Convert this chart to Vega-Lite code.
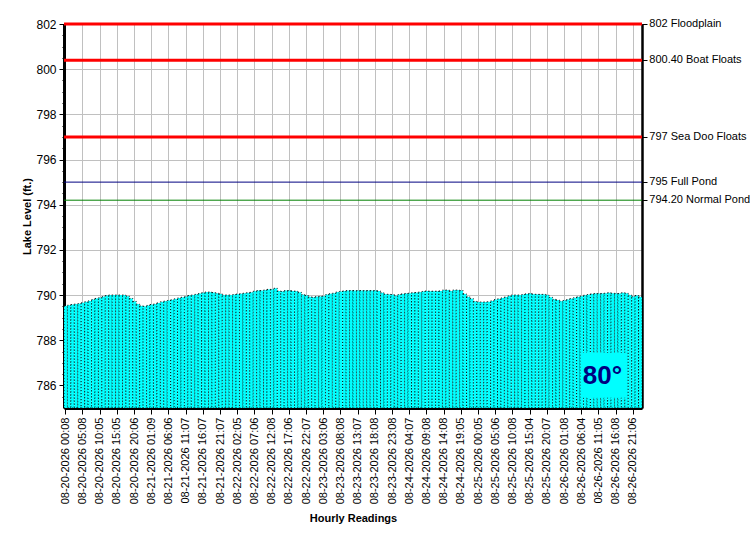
{
  "$schema": "https://vega.github.io/schema/vega-lite/v6.json",
  "width": 578,
  "height": 384,
  "autosize": "none",
  "padding": {"left": 64, "top": 24, "right": 108, "bottom": 142},
  "background": "white",
  "config": {
    "view": {"stroke": "black", "strokeWidth": 1},
    "font": "Liberation Sans",
    "axis": {"labelColor": "black", "titleColor": "black", "tickColor": "black", "domainColor": "black", "labelFont": "Liberation Sans", "titleFont": "Liberation Sans"}
  },
  "datasets": {
    "readings": [
      {"t": "08-20-2026 00:08", "v": 789.52}, {"t": "08-20-2026 01:08", "v": 789.55}, {"t": "08-20-2026 02:08", "v": 789.58}, {"t": "08-20-2026 03:08", "v": 789.6}, {"t": "08-20-2026 04:08", "v": 789.62},
      {"t": "08-20-2026 05:08", "v": 789.66}, {"t": "08-20-2026 06:08", "v": 789.7}, {"t": "08-20-2026 07:08", "v": 789.74}, {"t": "08-20-2026 08:08", "v": 789.8}, {"t": "08-20-2026 09:08", "v": 789.85},
      {"t": "08-20-2026 10:05", "v": 789.88}, {"t": "08-20-2026 11:05", "v": 789.93}, {"t": "08-20-2026 12:05", "v": 789.98}, {"t": "08-20-2026 13:05", "v": 790.0}, {"t": "08-20-2026 14:05", "v": 790.0},
      {"t": "08-20-2026 15:05", "v": 790.0}, {"t": "08-20-2026 16:05", "v": 790.0}, {"t": "08-20-2026 17:05", "v": 790.0}, {"t": "08-20-2026 18:05", "v": 789.95}, {"t": "08-20-2026 19:05", "v": 789.85},
      {"t": "08-20-2026 20:06", "v": 789.72}, {"t": "08-20-2026 21:06", "v": 789.6}, {"t": "08-20-2026 22:06", "v": 789.52}, {"t": "08-20-2026 23:06", "v": 789.5}, {"t": "08-21-2026 00:06", "v": 789.54},
      {"t": "08-21-2026 01:09", "v": 789.58}, {"t": "08-21-2026 02:09", "v": 789.6}, {"t": "08-21-2026 03:09", "v": 789.65}, {"t": "08-21-2026 04:09", "v": 789.7}, {"t": "08-21-2026 05:09", "v": 789.73},
      {"t": "08-21-2026 06:06", "v": 789.76}, {"t": "08-21-2026 07:06", "v": 789.79}, {"t": "08-21-2026 08:06", "v": 789.83}, {"t": "08-21-2026 09:06", "v": 789.87}, {"t": "08-21-2026 10:06", "v": 789.9},
      {"t": "08-21-2026 11:07", "v": 789.93}, {"t": "08-21-2026 12:07", "v": 789.98}, {"t": "08-21-2026 13:07", "v": 790.0}, {"t": "08-21-2026 14:07", "v": 790.03}, {"t": "08-21-2026 15:07", "v": 790.07},
      {"t": "08-21-2026 16:07", "v": 790.1}, {"t": "08-21-2026 17:07", "v": 790.13}, {"t": "08-21-2026 18:07", "v": 790.13}, {"t": "08-21-2026 19:07", "v": 790.11}, {"t": "08-21-2026 20:07", "v": 790.08},
      {"t": "08-21-2026 21:07", "v": 790.05}, {"t": "08-21-2026 22:07", "v": 790.0}, {"t": "08-21-2026 23:07", "v": 790.0}, {"t": "08-22-2026 00:07", "v": 790.0}, {"t": "08-22-2026 01:07", "v": 790.02},
      {"t": "08-22-2026 02:05", "v": 790.04}, {"t": "08-22-2026 03:05", "v": 790.06}, {"t": "08-22-2026 04:05", "v": 790.08}, {"t": "08-22-2026 05:05", "v": 790.1}, {"t": "08-22-2026 06:05", "v": 790.12},
      {"t": "08-22-2026 07:06", "v": 790.17}, {"t": "08-22-2026 08:06", "v": 790.2}, {"t": "08-22-2026 09:06", "v": 790.2}, {"t": "08-22-2026 10:06", "v": 790.22}, {"t": "08-22-2026 11:06", "v": 790.25},
      {"t": "08-22-2026 12:08", "v": 790.25}, {"t": "08-22-2026 13:08", "v": 790.3}, {"t": "08-22-2026 14:08", "v": 790.18}, {"t": "08-22-2026 15:08", "v": 790.16}, {"t": "08-22-2026 16:08", "v": 790.2},
      {"t": "08-22-2026 17:06", "v": 790.2}, {"t": "08-22-2026 18:06", "v": 790.18}, {"t": "08-22-2026 19:06", "v": 790.17}, {"t": "08-22-2026 20:06", "v": 790.12}, {"t": "08-22-2026 21:06", "v": 790.02},
      {"t": "08-22-2026 22:07", "v": 789.98}, {"t": "08-22-2026 23:07", "v": 789.92}, {"t": "08-23-2026 00:07", "v": 789.9}, {"t": "08-23-2026 01:07", "v": 789.93}, {"t": "08-23-2026 02:07", "v": 789.94},
      {"t": "08-23-2026 03:06", "v": 789.95}, {"t": "08-23-2026 04:06", "v": 790.02}, {"t": "08-23-2026 05:06", "v": 790.06}, {"t": "08-23-2026 06:06", "v": 790.08}, {"t": "08-23-2026 07:06", "v": 790.13},
      {"t": "08-23-2026 08:08", "v": 790.16}, {"t": "08-23-2026 09:08", "v": 790.18}, {"t": "08-23-2026 10:08", "v": 790.2}, {"t": "08-23-2026 11:08", "v": 790.2}, {"t": "08-23-2026 12:08", "v": 790.2},
      {"t": "08-23-2026 13:07", "v": 790.2}, {"t": "08-23-2026 14:07", "v": 790.2}, {"t": "08-23-2026 15:07", "v": 790.2}, {"t": "08-23-2026 16:07", "v": 790.2}, {"t": "08-23-2026 17:07", "v": 790.2},
      {"t": "08-23-2026 18:08", "v": 790.2}, {"t": "08-23-2026 19:08", "v": 790.18}, {"t": "08-23-2026 20:08", "v": 790.1}, {"t": "08-23-2026 21:08", "v": 790.04}, {"t": "08-23-2026 22:08", "v": 790.03},
      {"t": "08-23-2026 23:08", "v": 790.02}, {"t": "08-24-2026 00:08", "v": 789.97}, {"t": "08-24-2026 01:08", "v": 790.02}, {"t": "08-24-2026 02:08", "v": 790.05}, {"t": "08-24-2026 03:08", "v": 790.07},
      {"t": "08-24-2026 04:07", "v": 790.08}, {"t": "08-24-2026 05:07", "v": 790.1}, {"t": "08-24-2026 06:07", "v": 790.11}, {"t": "08-24-2026 07:07", "v": 790.13}, {"t": "08-24-2026 08:07", "v": 790.16},
      {"t": "08-24-2026 09:08", "v": 790.18}, {"t": "08-24-2026 10:08", "v": 790.17}, {"t": "08-24-2026 11:08", "v": 790.17}, {"t": "08-24-2026 12:08", "v": 790.17}, {"t": "08-24-2026 13:08", "v": 790.18},
      {"t": "08-24-2026 14:08", "v": 790.22}, {"t": "08-24-2026 15:08", "v": 790.22}, {"t": "08-24-2026 16:08", "v": 790.18}, {"t": "08-24-2026 17:08", "v": 790.22}, {"t": "08-24-2026 18:08", "v": 790.22},
      {"t": "08-24-2026 19:05", "v": 790.2}, {"t": "08-24-2026 20:05", "v": 790.05}, {"t": "08-24-2026 21:05", "v": 789.92}, {"t": "08-24-2026 22:05", "v": 789.84}, {"t": "08-24-2026 23:05", "v": 789.72},
      {"t": "08-25-2026 00:05", "v": 789.69}, {"t": "08-25-2026 01:05", "v": 789.69}, {"t": "08-25-2026 02:05", "v": 789.69}, {"t": "08-25-2026 03:05", "v": 789.7}, {"t": "08-25-2026 04:05", "v": 789.74},
      {"t": "08-25-2026 05:06", "v": 789.8}, {"t": "08-25-2026 06:06", "v": 789.83}, {"t": "08-25-2026 07:06", "v": 789.87}, {"t": "08-25-2026 08:06", "v": 789.91}, {"t": "08-25-2026 09:06", "v": 789.96},
      {"t": "08-25-2026 10:08", "v": 790.0}, {"t": "08-25-2026 11:08", "v": 790.0}, {"t": "08-25-2026 12:08", "v": 790.0}, {"t": "08-25-2026 13:08", "v": 790.02}, {"t": "08-25-2026 14:08", "v": 790.05},
      {"t": "08-25-2026 15:04", "v": 790.07}, {"t": "08-25-2026 16:04", "v": 790.04}, {"t": "08-25-2026 17:04", "v": 790.03}, {"t": "08-25-2026 18:04", "v": 790.03}, {"t": "08-25-2026 19:04", "v": 790.03},
      {"t": "08-25-2026 20:07", "v": 790.0}, {"t": "08-25-2026 21:07", "v": 789.9}, {"t": "08-25-2026 22:07", "v": 789.81}, {"t": "08-25-2026 23:07", "v": 789.78}, {"t": "08-26-2026 00:07", "v": 789.73},
      {"t": "08-26-2026 01:08", "v": 789.76}, {"t": "08-26-2026 02:08", "v": 789.8}, {"t": "08-26-2026 03:08", "v": 789.84}, {"t": "08-26-2026 04:08", "v": 789.88}, {"t": "08-26-2026 05:08", "v": 789.92},
      {"t": "08-26-2026 06:04", "v": 789.95}, {"t": "08-26-2026 07:04", "v": 789.99}, {"t": "08-26-2026 08:04", "v": 790.02}, {"t": "08-26-2026 09:04", "v": 790.05}, {"t": "08-26-2026 10:04", "v": 790.07},
      {"t": "08-26-2026 11:05", "v": 790.07}, {"t": "08-26-2026 12:05", "v": 790.07}, {"t": "08-26-2026 13:05", "v": 790.08}, {"t": "08-26-2026 14:05", "v": 790.1}, {"t": "08-26-2026 15:05", "v": 790.08},
      {"t": "08-26-2026 16:08", "v": 790.07}, {"t": "08-26-2026 17:08", "v": 790.07}, {"t": "08-26-2026 18:08", "v": 790.1}, {"t": "08-26-2026 19:08", "v": 790.08}, {"t": "08-26-2026 20:08", "v": 790.0},
      {"t": "08-26-2026 21:06", "v": 789.93}, {"t": "08-26-2026 22:06", "v": 789.98}, {"t": "08-26-2026 23:06", "v": 789.92}
    ],
    "levels": [
      {"level": 802, "name": "802 Floodplain"},
      {"level": 800.4, "name": "800.40 Boat Floats"},
      {"level": 797, "name": "797 Sea Doo Floats"},
      {"level": 795, "name": "795 Full Pond"},
      {"level": 794.2, "name": "794.20 Normal Pond"}
    ],
    "temp": [{"label": "80°"}]
  },
  "layer": [
    {
      "data": {"name": "readings"},
      "mark": {"type": "bar", "fill": "#00FFFF", "stroke": "#000000", "strokeWidth": 1, "strokeDash": [1, 2], "strokeOpacity": 0.9},
      "encoding": {
        "x": {
          "field": "t", "type": "ordinal", "sort": null,
          "scale": {"paddingInner": 0, "paddingOuter": 0},
          "axis": {
            "title": "Hourly Readings",
            "titleFontSize": 11, "titleFontWeight": "bold", "titlePadding": 9,
            "values": ["08-20-2026 00:08","08-20-2026 05:08","08-20-2026 10:05","08-20-2026 15:05","08-20-2026 20:06","08-21-2026 01:09","08-21-2026 06:06","08-21-2026 11:07","08-21-2026 16:07","08-21-2026 21:07","08-22-2026 02:05","08-22-2026 07:06","08-22-2026 12:08","08-22-2026 17:06","08-22-2026 22:07","08-23-2026 03:06","08-23-2026 08:08","08-23-2026 13:07","08-23-2026 18:08","08-23-2026 23:08","08-24-2026 04:07","08-24-2026 09:08","08-24-2026 14:08","08-24-2026 19:05","08-25-2026 00:05","08-25-2026 05:06","08-25-2026 10:08","08-25-2026 15:04","08-25-2026 20:07","08-26-2026 01:08","08-26-2026 06:04","08-26-2026 11:05","08-26-2026 16:08","08-26-2026 21:06"],
            "labelAngle": -90, "labelFontSize": 11, "labelPadding": 3,
            "grid": true, "gridColor": "#C0C0C0", "gridWidth": 1,
            "tickSize": 6, "domainWidth": 3
          }
        },
        "y": {
          "field": "v", "type": "quantitative",
          "scale": {"domain": [785, 802], "zero": false, "nice": false},
          "axis": {
            "orient": "left",
            "title": "Lake Level (ft.)",
            "titleFontSize": 11, "titleFontWeight": "bold", "titlePadding": 3,
            "values": [786, 788, 790, 792, 794, 796, 798, 800, 802],
            "format": "d",
            "labelOverlap": false, "labelFlush": false, "labelBound": false,
            "labelFontSize": 12, "labelPadding": 3,
            "grid": true, "gridColor": "#C0C0C0", "gridWidth": 1,
            "tickSize": 5,
            "domainWidth": 3
          }
        },
        "y2": {"datum": 785}
      }
    },
    {
      "data": {"name": "levels"},
      "transform": [{"filter": "datum.level > 796"}],
      "mark": {"type": "rule", "strokeWidth": 3},
      "encoding": {
        "y": {
          "field": "level", "type": "quantitative",
          "axis": {"orient": "right", "title": null, "labels": false, "grid": false, "values": [802, 800.4, 797, 795, 794.2], "tickSize": 5, "domainWidth": 2.5}
        },
        "color": {"field": "name", "type": "nominal", "scale": {"domain": ["802 Floodplain","800.40 Boat Floats","797 Sea Doo Floats","795 Full Pond","794.20 Normal Pond"], "range": ["#FF0000","#FF0000","#FF0000","#000080","#008000"]}, "legend": null}
      }
    },
    {
      "data": {"name": "levels"},
      "transform": [{"filter": "datum.level < 796"}],
      "mark": {"type": "rule", "strokeWidth": 1},
      "encoding": {
        "y": {
          "field": "level", "type": "quantitative",
          "axis": {"orient": "left", "title": null, "labels": false, "grid": false, "domain": false, "tickSize": 2, "values": [785.5,786.5,787,787.5,788.5,789,789.5,790.5,791,791.5,792.5,793,793.5,794.5,795,795.5,796.5,797,797.5,798.5,799,799.5,800.5,801,801.5]}
        },
        "color": {"field": "name", "type": "nominal", "legend": null}
      }
    },
    {
      "data": {"name": "levels"},
      "mark": {"type": "text", "align": "left", "baseline": "middle", "dx": 9, "fontSize": 11, "color": "black"},
      "encoding": {
        "x": {"datum": "08-26-2026 23:06"},
        "y": {"field": "level", "type": "quantitative", "axis": null},
        "text": {"field": "name"}
      }
    },
    {
      "data": {"name": "temp"},
      "mark": {"type": "rect", "fill": "#00FFFF"},
      "encoding": {
        "x": {"datum": "08-26-2026 06:04"},
        "x2": {"datum": "08-26-2026 19:08"},
        "y": {"datum": 787.45, "axis": null},
        "y2": {"datum": 785.45}
      }
    },
    {
      "data": {"name": "temp"},
      "mark": {"type": "text", "align": "center", "baseline": "middle", "fontSize": 26, "fontWeight": "bold", "color": "#000080", "font": "Liberation Sans"},
      "encoding": {
        "x": {"datum": "08-26-2026 12:05"},
        "y": {"datum": 786.42, "axis": null},
        "text": {"field": "label"}
      }
    }
  ],
  "resolve": {"axis": {"y": "independent"}}
}
